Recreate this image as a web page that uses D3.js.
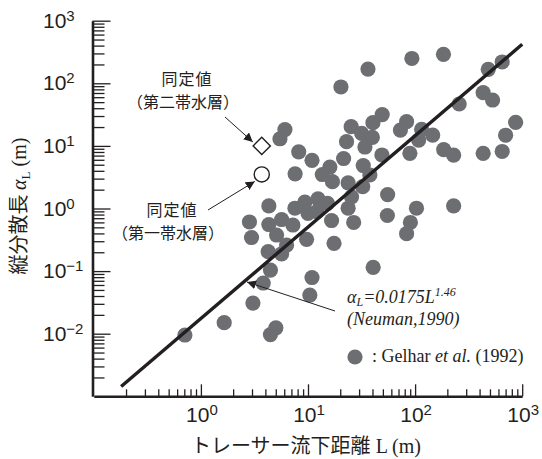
<!DOCTYPE html>
<html>
<head>
<meta charset="utf-8">
<style>
  body { margin: 0; background: #fff; }
  svg { display: block; }
</style>
</head>
<body>
<div id="chart"></div>
<script src="https://d3js.org/d3.v7.min.js"></script>
<script>
// Gelhar et al. (1992): トレーサー流下距離 L (m) と縦分散長 αL (m)
const gelharL = [20.3, 36.3, 93.3, 184, 482, 650, 258, 432, 529, 869,
                 700, 650, 432, 229, 185, 146, 108, 115, 83.3, 72.9,
                 89.4, 49.3, 40.4, 25.3, 31.7, 39.9, 34.0, 22.9, 49.0, 21.5,
                 32.8, 37.8, 32.4, 16.0, 13.6, 16.9, 23.7, 25.5, 23.7, 26.7,
                 55.4, 55.1, 103, 90.4, 83.3, 229, 10.9, 8.19, 7.58, 6.09,
                 5.47, 4.31, 7.55, 9.35, 12.4, 15.2, 12.1, 10.0, 5.67, 4.31,
                 2.84, 16.6, 7.23, 2.97, 5.09, 9.70, 17.5, 4.25, 5.67, 4.46,
                 3.82, 3.06, 1.65, 5.01, 4.46, 0.709, 10.9, 10.4, 40.6, 6.31];
const gelharA = [87.3, 169, 249, 290, 167, 219, 46.7, 70.8, 54.1, 23.8,
                 14.8, 8.14, 7.62, 7.10, 8.70, 14.9, 12.4, 18.4, 24.4, 17.9,
                 7.62, 31.7, 23.5, 20.3, 15.9, 13.7, 9.60, 11.7, 7.16, 6.29,
                 4.86, 3.43, 2.23, 4.60, 3.49, 2.68, 2.56, 1.54, 1.01, 0.598,
                 1.67, 0.773, 1.01, 0.598, 0.396, 1.10, 5.89, 8.05, 3.58, 18.2,
                 13.0, 1.10, 1.01, 1.26, 1.42, 1.21, 0.889, 0.838, 0.667, 0.555,
                 0.609, 0.643, 0.545, 0.344, 0.377, 0.322, 0.278, 0.204, 0.188, 0.104,
                 0.0645, 0.0309, 0.0150, 0.0124, 0.0097, 0.00953, 0.0790, 0.0415, 0.115, 0.261];

// 同定値 (第二帯水層 = ◇, 第一帯水層 = ○)
const idL = [3.7, 3.7];
const idA = [10, 3.5];
const idShape = ["diamond", "circle"];
const idLabel = ["（第二帯水層）", "（第一帯水層）"];

// Neuman (1990): αL = 0.0175 L^1.46
const neumanCoef = 0.0175;
const neumanExp = 1.46;
const neumanL = [0.18, 1000];

// 目盛り
const xMajor = [1, 10, 100, 1000];
const xExp = ["0", "1", "2", "3"];
const yMajor = [0.01, 0.1, 1, 10, 100, 1000];
const yExp = ["−2", "−1", "0", "1", "2", "3"];

const W = 542, H = 459;
const ink = "#231f20";
const dotColor = "#6d6e71";
const sans = "'Liberation Sans', Arial, sans-serif";
const serif = "'Liberation Serif', 'Times New Roman', serif";
const jp = "'Noto Sans CJK JP', sans-serif";

const svg = d3.select("#chart").append("svg")
    .attr("width", W)
    .attr("height", H);

const x = d3.scaleLog().domain([0.1, 1000]).range([93.8, 522.2]);
const y = d3.scaleLog().domain([0.001, 1000]).range([396.3, 20.7]);

const isMajor = v => Math.abs(Math.log10(v) - Math.round(Math.log10(v))) < 1e-6;
const xMinor = x.ticks().filter(v => !isMajor(v));
const yMinor = y.ticks().filter(v => !isMajor(v));

// 軸
const gx = svg.append("g").attr("transform", `translate(0,${y.range()[0]})`);
gx.append("g")
    .call(d3.axisBottom(x).tickValues(xMinor).tickSizeInner(-7).tickSizeOuter(0).tickFormat(""));
gx.append("g")
    .call(d3.axisBottom(x).tickValues(xMajor).tickSizeInner(-12).tickSizeOuter(0).tickFormat(""))
    .select(".domain").remove();

const gy = svg.append("g").attr("transform", "translate(92.5,0)");
gy.append("g")
    .call(d3.axisLeft(y).tickValues(yMinor).tickSizeInner(-12).tickSizeOuter(0).tickFormat(""));
gy.append("g")
    .call(d3.axisLeft(y).tickValues(yMajor).tickSizeInner(-18).tickSizeOuter(0).tickFormat(""))
    .select(".domain").remove();

svg.selectAll(".tick line").attr("stroke", ink).attr("stroke-width", 1.3);
svg.selectAll(".domain").attr("stroke", ink).attr("stroke-width", 2.6);

// 目盛りラベル
svg.append("g").selectAll("text")
    .data(xMajor)
    .join("text")
    .attr("x", d => x(d) + 1)
    .attr("y", 422)
    .attr("text-anchor", "middle")
    .style("font-family", sans)
    .style("font-size", "21px")
    .style("fill", ink)
    .each(function(d, i) {
        const t = d3.select(this);
        t.append("tspan").text("10");
        t.append("tspan").attr("dy", -7).style("font-size", "15px").text(xExp[i]);
    });

svg.append("g").selectAll("text")
    .data(yMajor)
    .join("text")
    .attr("x", 43)
    .attr("y", d => y(d) + 7)
    .attr("text-anchor", "start")
    .style("font-family", sans)
    .style("font-size", "21px")
    .style("fill", ink)
    .each(function(d, i) {
        const t = d3.select(this);
        t.append("tspan").text("10");
        t.append("tspan").attr("dy", -7).style("font-size", "15px").text(yExp[i]);
    });

// 軸タイトル
const xt = svg.append("text")
    .attr("x", 306)
    .attr("y", 453)
    .attr("text-anchor", "middle")
    .style("fill", ink)
    .style("font-size", "20px");
xt.append("tspan").style("font-family", jp).text("トレーサー流下距離");
xt.append("tspan").style("font-family", serif).text(" L (m)");

const yt = svg.append("text")
    .attr("transform", "translate(26,206) rotate(-90)")
    .attr("text-anchor", "middle")
    .style("fill", ink)
    .style("font-size", "20px");
yt.append("tspan").style("font-family", jp).text("縦分散長 ");
yt.append("tspan").style("font-family", serif).style("font-style", "italic").text("α");
yt.append("tspan").style("font-family", serif).style("font-size", "13px").attr("dy", 4).text("L");
yt.append("tspan").style("font-family", serif).attr("dy", -4).text(" (m)");

// Gelhar et al. のデータ
const gelhar = gelharL.map((L, i) => ({L: L, a: gelharA[i]}));
svg.append("g").selectAll("circle")
    .data(gelhar)
    .join("circle")
    .attr("cx", d => x(d.L))
    .attr("cy", d => y(d.a))
    .attr("r", 7.6)
    .attr("fill", dotColor);

// Neuman (1990) の回帰線
const line = d3.line().x(d => x(d)).y(d => y(neumanCoef * Math.pow(d, neumanExp)));
svg.append("path")
    .datum(neumanL)
    .attr("d", line)
    .attr("fill", "none")
    .attr("stroke", ink)
    .attr("stroke-width", 3.4);

// 同定値
const ids = idL.map((L, i) => ({L: L, a: idA[i], shape: idShape[i]}));
svg.append("g").selectAll("path")
    .data(ids)
    .join("path")
    .attr("transform", d => `translate(${x(d.L)},${y(d.a)})`)
    .attr("d", d => d.shape === "diamond"
        ? d3.symbol(d3.symbolDiamond2, 190)()
        : d3.symbol(d3.symbolCircle, 180)())
    .attr("fill", "#fff")
    .attr("stroke", ink)
    .attr("stroke-width", 1.4);

// 矢印
const defs = svg.append("defs");
defs.append("marker")
    .attr("id", "arrow")
    .attr("viewBox", "0 0 10 10")
    .attr("refX", 10).attr("refY", 5)
    .attr("markerWidth", 9).attr("markerHeight", 9)
    .attr("markerUnits", "userSpaceOnUse")
    .attr("orient", "auto")
    .append("path")
    .attr("d", "M0,0L10,5L0,10z")
    .attr("fill", ink);

function arrow(x1, y1, x2, y2) {
    svg.append("line")
        .attr("x1", x1).attr("y1", y1)
        .attr("x2", x2).attr("y2", y2)
        .attr("stroke", ink)
        .attr("stroke-width", 1)
        .attr("marker-end", "url(#arrow)");
}
arrow(225, 117, x(idL[0]) - 9, y(idA[0]) - 4);
arrow(208, 210, x(idL[1]) - 7, y(idA[1]) + 7);
arrow(335, 311, 247, 282);

// 注記
function idText(cx, y1, label) {
    svg.append("text")
        .attr("x", cx).attr("y", y1)
        .attr("text-anchor", "middle")
        .style("font-family", jp)
        .style("font-size", "16px")
        .style("letter-spacing", "1px")
        .style("fill", ink)
        .text("同定値");
    svg.append("text")
        .attr("x", cx - 4).attr("y", y1 + 23)
        .attr("text-anchor", "middle")
        .style("font-family", jp)
        .style("font-size", "16px")
        .style("fill", ink)
        .text(label);
}
idText(187, 85, idLabel[0]);
idText(172, 216, idLabel[1]);

const eq = svg.append("text")
    .attr("x", 347).attr("y", 303)
    .style("font-family", serif)
    .style("font-style", "italic")
    .style("font-size", "18px")
    .style("fill", ink);
eq.append("tspan").text("α");
eq.append("tspan").attr("dy", 3).style("font-size", "12px").text("L");
eq.append("tspan").attr("dy", -3).text("=0.0175L");
eq.append("tspan").attr("dy", -7).style("font-size", "12px").text("1.46");

svg.append("text")
    .attr("x", 347).attr("y", 325)
    .style("font-family", serif)
    .style("font-style", "italic")
    .style("font-size", "18px")
    .style("fill", ink)
    .text("(Neuman,1990)");

// 凡例
svg.append("circle")
    .attr("cx", 355).attr("cy", 357)
    .attr("r", 7.6)
    .attr("fill", dotColor);
const lg = svg.append("text")
    .attr("x", 372).attr("y", 362)
    .style("font-family", serif)
    .style("font-size", "18px")
    .style("fill", ink);
lg.append("tspan").text(": Gelhar ");
lg.append("tspan").style("font-style", "italic").text("et al.");
lg.append("tspan").text(" (1992)");
</script>
</body>
</html>
